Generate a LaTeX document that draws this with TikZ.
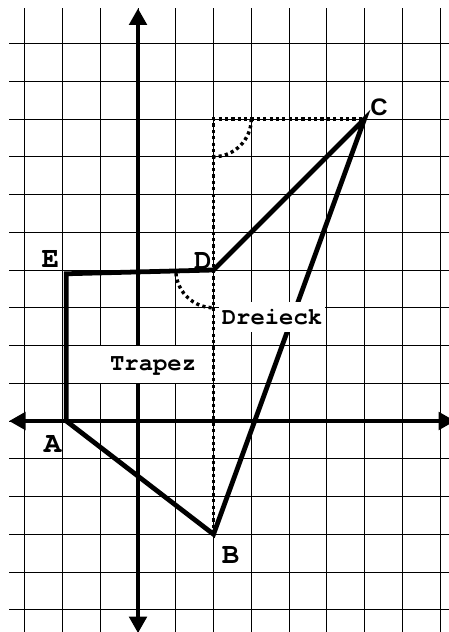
\documentclass[tikz,border=0pt]{standalone}
\usepackage{fontspec}
\setsansfont{Liberation Sans}
\setmonofont{TeX Gyre Cursor}
\usetikzlibrary{arrows.meta}
\tikzset{
  gridln/.style={line width=0.7pt, black},
  axis/.style={line width=3.6pt, {Triangle[length=4.4mm,width=4.6mm]}-{Triangle[length=4.4mm,width=4.6mm]}},
  side/.style={line width=3.6pt},
  hilf/.style={line width=2.6pt, dash pattern=on 2.4pt off 2.4pt},
  ptlabel/.style={font=\fontsize{22}{24}\selectfont\ttfamily\bfseries, inner sep=0pt},
  tag/.style={font=\fontsize{18}{20}\selectfont\ttfamily\bfseries, inner sep=0pt}
}

\begin{document}
\begin{tikzpicture}
\useasboundingbox (-3.656,-5.589) rectangle (8.212,11.152);
\fill[white] (-3.656,-5.589) rectangle (8.212,11.152);
\draw[gridln] (-3.417,-5.7) grid (8.3,10.94);
\draw[axis] (-3.417,0) -- (8.4,0);
\draw[axis] (0,-5.62) -- (0,10.93);
% Punkte
\coordinate (A) at (-1.9,0);
\coordinate (B) at (2,-3);
\coordinate (C) at (6,8);
\coordinate (D) at (2,4);
\coordinate (E) at (-1.9,3.9);
\coordinate (R) at (2,8);
\fill[white] (-1.88,1) rectangle (1.94,2);
\node[tag] (trapez) at (0.4,1.45) {Trapez};
% Hilfslinien
\draw[hilf] (B) -- (R) -- (C);
\draw[hilf] (R) ++(0:1) arc[start angle=0, end angle=-90, radius=1];
\draw[hilf] (D) ++(185:1) arc[start angle=185, end angle=270, radius=1];
\draw[side] (A) -- (B) -- (C) -- (D) -- (E) -- cycle;
\node[tag, fill=white, minimum width=2.81cm, minimum height=0.79cm] (dreieck) at (3.55,2.76) {Dreieck};
\node[ptlabel] (lA) at (-2.265,-0.609) {A};
\node[ptlabel] (lB) at (2.45,-3.54) {B};
\node[ptlabel, font=\fontsize{18}{20}\selectfont\sffamily\bfseries] (lC) at (6.38,8.31) {C};
\node[ptlabel] (lD) at (1.72,4.24) {D};
\node[ptlabel] (lE) at (-2.32,4.30) {E};
\end{tikzpicture}
\end{document}
